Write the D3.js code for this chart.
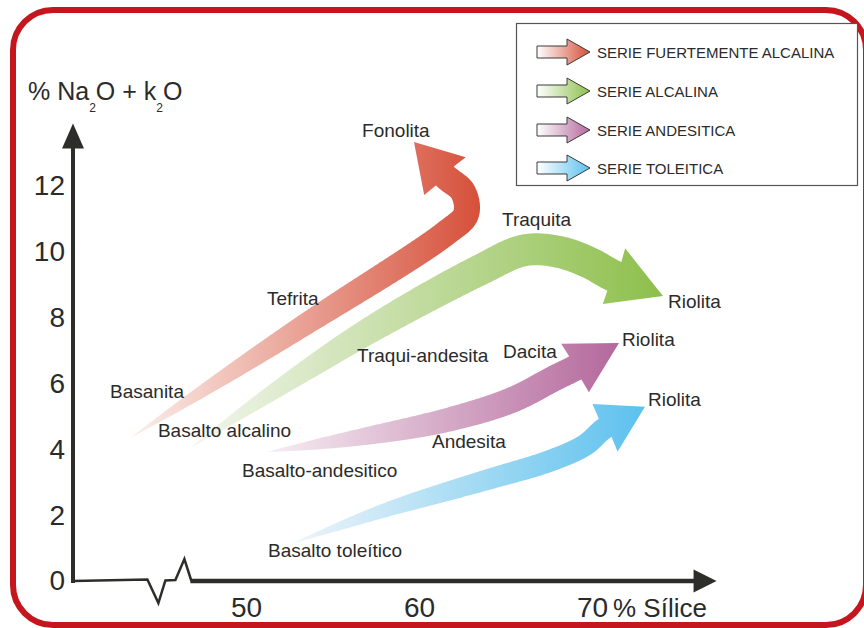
<!DOCTYPE html>
<html>
<head>
<meta charset="utf-8">
<script src="https://cdn.jsdelivr.net/npm/d3@7"></script>
<style>
    html, body { margin: 0; padding: 0; background: #fff; }
    svg { display: block; font-family: "Liberation Sans", Arial, Helvetica, sans-serif; }
</style>
</head>
<body>
<svg id="chart" width="864" height="628"></svg>
<script>
// Magmatic series, in legend order
const seriesNames = ['SERIE FUERTEMENTE ALCALINA', 'SERIE ALCALINA', 'SERIE ANDESITICA', 'SERIE TOLEITICA'];

// Centre line of each fat arrow as [% silice, % Na2O + K2O]; the last point is the arrow tip
const fuerteAlcalina = [[43.29, 4.34], [53.12, 7.69], [61.56, 10.57], [62.72, 11.15], [62.54, 11.82], [61.50, 12.30], [59.71, 13.34]];
const alcalina = [[46.76, 4.04], [56.59, 7.44], [63.53, 9.45], [66.13, 10.05], [68.15, 9.99], [69.88, 9.66], [71.27, 9.26], [74.10, 8.66]];
const andesitica = [[51.21, 3.92], [56.59, 4.37], [61.62, 4.89], [65.38, 5.50], [67.86, 6.17], [69.02, 6.47], [71.56, 7.23]];
const toleitica = [[52.72, 1.15], [57.92, 2.13], [63.70, 3.04], [67.57, 3.65], [69.60, 4.13], [70.75, 4.65], [73.06, 5.29]];
const seriesPaths = [fuerteAlcalina, alcalina, andesitica, toleitica];

// Rock names written along the arrows
const rockNames = ['Fonolita', 'Tefrita', 'Basanita', 'Basalto alcalino', 'Traqui-andesita', 'Traquita', 'Riolita',
    'Dacita', 'Riolita', 'Riolita', 'Andesita', 'Basalto-andesitico', 'Basalto toleítico'];
const rockSilica = [56.71, 51.21, 42.14, 44.91, 56.42, 64.80, 74.39, 64.86, 71.73, 73.24, 60.75, 49.77, 51.27];
const rockAlkali = [13.49, 8.38, 5.56, 4.37, 6.65, 10.78, 8.29, 6.77, 7.14, 5.32, 4.04, 3.16, 0.73];

// Axes
const yTicks = [0, 2, 4, 6, 8, 10, 12];
const xTicks = [50, 60, 70];

// Styles
const colors = ['#d6503a', '#8dbf4b', '#b4689c', '#5cc1ee'];
const paleColors = ['#fbf0ec', '#f3f6ef', '#f7eef3', '#eff5f9'];
const bodyWidth = [26, 32, 26, 22];     // px, full width of arrow body
const headHalf = [28, 30, 28, 27];      // px, half width of arrow head
const textColor = '#2b2b2b';
const axisColor = '#2d2d29';

const svg = d3.select('#chart');
const defs = svg.append('defs');

const x = d3.scaleLinear().domain([40, 70]).range([73, 592]);
const y = d3.scaleLinear().domain([0, 12]).range([581, 186]);

// Red rounded frame
svg.append('rect')
    .attr('x', 13).attr('y', 10)
    .attr('width', 853).attr('height', 615)
    .attr('rx', 40).attr('ry', 40)
    .attr('fill', '#fff')
    .attr('stroke', '#c4161c')
    .attr('stroke-width', 6);

/**
 * Build the outline of a tapering, curved arrow from its centre line
 */
function arrowOutline(points, wMax, hHalf) {
    const px = points.map(d => [x(d[0]), y(d[1])]);
    const tmp = svg.append('path')
        .attr('d', d3.line().curve(d3.curveCatmullRom.alpha(0.5))(px))
        .attr('fill', 'none');
    const node = tmp.node();
    const total = node.getTotalLength();
    const samples = [];
    for (let s = 0; s <= total; s += 1) {
        const p = node.getPointAtLength(s);
        samples.push([p.x, p.y, s]);
    }
    tmp.remove();

    const base = px[px.length - 2];
    const tip = px[px.length - 1];

    // body runs from the tail up to the sample closest to the head base
    let bi = 0, bd = Infinity;
    samples.forEach((p, i) => {
        const d = (p[0] - base[0]) ** 2 + (p[1] - base[1]) ** 2;
        if (d < bd) { bd = d; bi = i; }
    });
    const body = samples.slice(0, bi + 1);
    const bodyLen = body[body.length - 1][2];

    const left = [], right = [];
    body.forEach((p, i) => {
        const a = body[Math.max(0, i - 2)];
        const b = body[Math.min(body.length - 1, i + 2)];
        let dx = b[0] - a[0], dy = b[1] - a[1];
        const n = Math.hypot(dx, dy) || 1;
        dx /= n; dy /= n;
        const t = p[2] / bodyLen;
        const w = wMax * (1 - Math.pow(1 - t, 3)) / 2;
        left.push([p[0] - dy * w, p[1] + dx * w]);
        right.push([p[0] + dy * w, p[1] - dx * w]);
    });

    let hx = tip[0] - base[0], hy = tip[1] - base[1];
    const hn = Math.hypot(hx, hy);
    hx /= hn; hy /= hn;
    const hl = [base[0] - hy * hHalf, base[1] + hx * hHalf];
    const hr = [base[0] + hy * hHalf, base[1] - hx * hHalf];

    return left.concat([hl, tip, hr], right.reverse());
}

// Fat gradient arrows
const arrowsGroup = svg.append('g').attr('class', 'arrows');
seriesPaths.forEach((pts, i) => {
    const outline = arrowOutline(pts, bodyWidth[i], headHalf[i]);
    const xs = outline.map(p => p[0]);
    const grad = defs.append('linearGradient')
        .attr('id', `grad-${i}`)
        .attr('gradientUnits', 'userSpaceOnUse')
        .attr('x1', d3.min(xs)).attr('x2', d3.max(xs))
        .attr('y1', 0).attr('y2', 0);
    grad.append('stop').attr('offset', '0%').attr('stop-color', paleColors[i]);
    grad.append('stop').attr('offset', '100%').attr('stop-color', colors[i]);

    arrowsGroup.append('path')
        .attr('d', 'M' + outline.map(p => p[0].toFixed(2) + ',' + p[1].toFixed(2)).join('L') + 'Z')
        .attr('fill', `url(#grad-${i})`);
});

// Axes: y with arrow head, x with a break and arrow head
const axes = svg.append('g').attr('class', 'axes');
const x0 = x(40), y0 = y(0);
const yTop = y(13.9);

axes.append('line')
    .attr('x1', x0).attr('y1', y0 + 2)
    .attr('x2', x0).attr('y2', yTop + 24)
    .attr('stroke', axisColor).attr('stroke-width', 4);
axes.append('path')
    .attr('d', `M${x0},${yTop}L${x0 + 11},${yTop + 25}L${x0 - 11},${yTop + 25}Z`)
    .attr('fill', axisColor);

const breakX = x(44.3);
const zig = [[x0, y0], [breakX, y0 - 1.5], [breakX + 11, y0 + 22], [breakX + 18, y0 - 0.5],
    [breakX + 28, y0 - 1], [breakX + 37, y0 - 22], [breakX + 44, y0]];
axes.append('path')
    .attr('d', d3.line()(zig))
    .attr('fill', 'none')
    .attr('stroke', axisColor)
    .attr('stroke-width', 2.5)
    .attr('stroke-linejoin', 'miter');

const xEnd = x(77.2);
axes.append('line')
    .attr('x1', breakX + 43).attr('y1', y0)
    .attr('x2', xEnd - 21).attr('y2', y0)
    .attr('stroke', axisColor).attr('stroke-width', 4.5);
axes.append('path')
    .attr('d', `M${xEnd},${y0}L${xEnd - 23},${y0 - 11.5}L${xEnd - 23},${y0 + 11.5}Z`)
    .attr('fill', axisColor);

// Tick labels
const yAxis = svg.append('g')
    .attr('transform', `translate(${x0},0)`)
    .call(d3.axisLeft(y).tickValues(yTicks).tickSize(0).tickPadding(8));
const xAxis = svg.append('g')
    .attr('transform', `translate(0,${y0})`)
    .call(d3.axisBottom(x).tickValues(xTicks).tickSize(0).tickPadding(16));
[yAxis, xAxis].forEach(g => {
    g.select('.domain').remove();
    g.selectAll('text')
        .attr('font-family', '"Liberation Sans", Arial, sans-serif')
        .attr('font-size', 28)
        .attr('fill', textColor);
});

// Axis titles
svg.append('text')
    .attr('x', 613).attr('y', 617)
    .attr('font-size', 26)
    .attr('fill', textColor)
    .text('% Sílice');

// "% Na2O + K2O" written as in the original, with small subscripts
const yTitle = svg.append('text')
    .attr('x', 28).attr('y', 100)
    .attr('font-size', 25)
    .attr('fill', textColor);
yTitle.append('tspan').text('% Na');
yTitle.append('tspan').attr('font-size', 12).attr('dy', 12).text('2');
yTitle.append('tspan').attr('dy', -12).text('O + k');
yTitle.append('tspan').attr('font-size', 12).attr('dy', 12).text('2');
yTitle.append('tspan').attr('dy', -12).text('O');

// Rock labels
svg.append('g').attr('class', 'rock-labels')
    .selectAll('text')
    .data(rockNames)
    .join('text')
    .attr('x', (d, i) => x(rockSilica[i]))
    .attr('y', (d, i) => y(rockAlkali[i]))
    .attr('font-size', 19)
    .attr('fill', textColor)
    .text(d => d);

// Legend
const legend = svg.append('g').attr('class', 'legend');
legend.append('rect')
    .attr('x', 516.5).attr('y', 23.5)
    .attr('width', 341).attr('height', 162)
    .attr('fill', '#fff')
    .attr('stroke', '#555')
    .attr('stroke-width', 1.2);

const rowY = [52, 91, 130, 168];
seriesNames.forEach((name, i) => {
    const cy = rowY[i];
    const lg = defs.append('linearGradient')
        .attr('id', `legend-grad-${i}`)
        .attr('x1', 0).attr('x2', 1).attr('y1', 0).attr('y2', 0);
    lg.append('stop').attr('offset', '0%').attr('stop-color', '#fff');
    lg.append('stop').attr('offset', '100%').attr('stop-color', colors[i]);

    legend.append('path')
        .attr('d', `M537,${cy - 6}H567V${cy - 13}L590,${cy}L567,${cy + 13}V${cy + 6}H537Z`)
        .attr('fill', `url(#legend-grad-${i})`)
        .attr('stroke', '#3a3a3a')
        .attr('stroke-width', 1);

    legend.append('text')
        .attr('x', 597).attr('y', cy + 5.5)
        .attr('font-size', 15)
        .attr('fill', textColor)
        .text(name);
});
</script>
</body>
</html>
